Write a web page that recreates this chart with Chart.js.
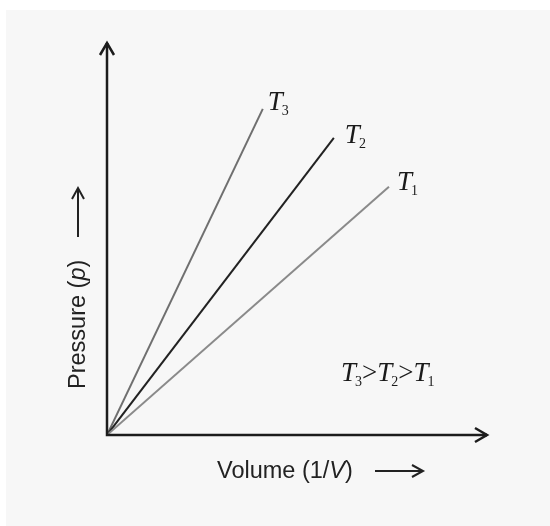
<!DOCTYPE html>
<html>
<head>
<meta charset="utf-8">
<script src="https://cdn.jsdelivr.net/npm/chart.js@4/dist/chart.umd.min.js"></script>
<style>
html,body{margin:0;padding:0;background:#f7f7f7;overflow:hidden;}
canvas{display:block;}
</style>
</head>
<body>
<canvas id="c" width="550" height="526"></canvas>
<script>
// ---- data ----
const seriesNames = ['T', 'T', 'T'];
const seriesSubs = ['1', '2', '3'];
const startX = [0, 0, 0];
const startY = [0, 0, 0];
const endX = [7.42, 5.97, 4.10];
const endY = [6.33, 7.58, 8.32];
const xTitleParts = ['Volume (1/', 'V', ')'];
const yTitleParts = ['Pressure (', 'p', ')'];
const relationSubs = ['3', '2', '1'];
const axisMin = [0, 0];
const axisMax = [10, 10];

// ---- styles (not data) ----
const lineColors = ['#8a8a8a', '#222222', '#6f6f6f'];
const labelOffsets = [[8, 3], [11, 5], [5, 1]];
const SANS = '"Liberation Sans", Arial, sans-serif';
const SERIF = '"Liberation Serif", "Times New Roman", serif';

function drawSym(ctx, x, y, name, sub) {
  ctx.font = 'italic 27px ' + SERIF;
  ctx.textAlign = 'left';
  ctx.textBaseline = 'alphabetic';
  ctx.fillText(name, x, y);
  const w = ctx.measureText(name).width;
  ctx.font = '14px ' + SERIF;
  ctx.fillText(sub, x + w - 1, y + 5);
  return w - 1 + ctx.measureText(sub).width;
}

function drawRich(ctx, x, y, parts) {
  let cx = x;
  parts.forEach((p, i) => {
    ctx.font = (i === 1 ? 'italic ' : '') + '23.5px ' + SANS;
    ctx.fillText(p, cx, y);
    cx += ctx.measureText(p).width;
  });
  return cx - x;
}

function arrowLine(ctx, x1, y1, x2, y2, head, half, lw) {
  ctx.lineWidth = lw;
  ctx.beginPath();
  ctx.moveTo(x1, y1);
  ctx.lineTo(x2, y2);
  ctx.stroke();
  const a = Math.atan2(y2 - y1, x2 - x1);
  const bx = x2 - head * Math.cos(a), by = y2 - head * Math.sin(a);
  const px = -Math.sin(a) * half, py = Math.cos(a) * half;
  ctx.beginPath();
  ctx.moveTo(bx + px, by + py);
  ctx.lineTo(x2, y2);
  ctx.lineTo(bx - px, by - py);
  ctx.stroke();
}

const deco = {
  id: 'deco',
  beforeDraw(chart) {
    const ctx = chart.ctx;
    ctx.save();
    ctx.fillStyle = '#ffffff';
    ctx.fillRect(0, 0, chart.width, chart.height);
    ctx.fillStyle = '#f7f7f7';
    ctx.fillRect(6, 10, chart.width - 6, chart.height - 10);
    ctx.restore();
  },
  afterDatasetsDraw(chart) {
    const ctx = chart.ctx;
    const xs = chart.scales.x, ys = chart.scales.y;
    const a = chart.chartArea;
    ctx.save();
    ctx.strokeStyle = '#1c1c1c';
    ctx.fillStyle = '#1c1c1c';
    ctx.lineCap = 'butt';
    ctx.lineJoin = 'miter';
    // axes with arrowheads
    const ox = xs.getPixelForValue(axisMin[0]);
    const oy = ys.getPixelForValue(axisMin[1]);
    ctx.beginPath();
    ctx.lineWidth = 2.5;
    ctx.moveTo(ox, a.top);
    ctx.lineTo(ox, oy);
    ctx.lineTo(a.right, oy);
    ctx.stroke();
    arrowLine(ctx, a.right - 5, oy, a.right, oy, 12, 7, 2.5);
    arrowLine(ctx, ox, a.top + 5, ox, a.top, 12, 7, 2.5);

    // series labels
    ctx.fillStyle = '#1a1a1a';
    seriesNames.forEach((n, i) => {
      const px = xs.getPixelForValue(endX[i]);
      const py = ys.getPixelForValue(endY[i]);
      drawSym(ctx, px + labelOffsets[i][0], py + labelOffsets[i][1], n, seriesSubs[i]);
    });

    // relation text T3>T2>T1
    let rx = 341, ry = 381;
    relationSubs.forEach((s, i) => {
      rx += drawSym(ctx, rx, ry, 'T', s);
      if (i < relationSubs.length - 1) {
        ctx.font = '27px ' + SERIF;
        ctx.fillText('>', rx, ry);
        rx += ctx.measureText('>').width;
      }
    });

    // x title
    ctx.fillStyle = '#222222';
    ctx.strokeStyle = '#222222';
    ctx.textAlign = 'left';
    ctx.textBaseline = 'alphabetic';
    drawRich(ctx, 217, 478, xTitleParts);
    arrowLine(ctx, 375, 471, 423, 471, 11, 6, 2);

    // y title
    ctx.save();
    ctx.translate(85, 389);
    ctx.rotate(-Math.PI / 2);
    drawRich(ctx, 0, 0, yTitleParts);
    arrowLine(ctx, 152, -7, 201, -7, 11, 6, 2);
    ctx.restore();

    ctx.restore();
  }
};

new Chart(document.getElementById('c'), {
  type: 'scatter',
  data: {
    datasets: seriesNames.map((n, i) => ({
      label: n + seriesSubs[i],
      data: [{x: startX[i], y: startY[i]}, {x: endX[i], y: endY[i]}],
      showLine: true,
      borderColor: lineColors[i],
      borderWidth: 2,
      pointRadius: 0,
      fill: false,
      tension: 0
    }))
  },
  options: {
    responsive: false,
    animation: false,
    devicePixelRatio: 1,
    layout: {padding: {left: 107, right: 63, top: 43, bottom: 91}},
    scales: {
      x: {type: 'linear', min: axisMin[0], max: axisMax[0], display: false},
      y: {type: 'linear', min: axisMin[1], max: axisMax[1], display: false}
    },
    plugins: {legend: {display: false}, tooltip: {enabled: false}, title: {display: false}}
  },
  plugins: [deco]
});
</script>
</body>
</html>
